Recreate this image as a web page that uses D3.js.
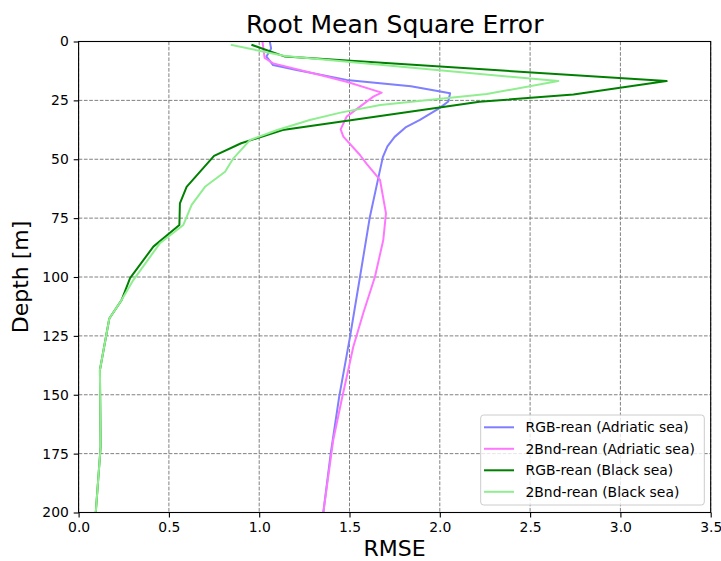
<!DOCTYPE html>
<html>
<head>
<meta charset="utf-8">
<script src="https://cdn.jsdelivr.net/npm/d3@7"></script>
<style>
  html, body { margin: 0; padding: 0; background: #fff; }
  svg { display: block; }
  text { font-family: "DejaVu Sans", sans-serif; fill: #000; }
</style>
</head>
<body>
<svg id="chart" width="721" height="561"></svg>
<script>
// ---- Data (RMSE vs depth) ----
const seriesNames = ["RGB-rean (Adriatic sea)", "2Bnd-rean (Adriatic sea)", "RGB-rean (Black sea)", "2Bnd-rean (Black sea)"];
const seriesColors = ["#7f7fff", "#ff77ff", "#008000", "#90ee90"];

const rgbAdriaticRmse  = [1.06, 1.066, 1.04, 1.077, 1.207, 1.484, 1.84, 2.057, 2.047, 1.996, 1.89, 1.81, 1.75, 1.71, 1.685, 1.665, 1.613, 1.558, 1.503, 1.443, 1.396, 1.355];
const rgbAdriaticDepth = [0.5, 3, 6.4, 10, 12.1, 16.3, 19, 22, 25.5, 28.4, 33.3, 36.5, 40.5, 44.5, 49, 56, 74.4, 100, 125.3, 150.8, 175, 200];

const bndAdriaticRmse  = [1.019, 1.03, 1.078, 1.337, 1.484, 1.678, 1.632, 1.484, 1.451, 1.466, 1.558, 1.595, 1.669, 1.702, 1.687, 1.641, 1.576, 1.521, 1.493, 1.457, 1.41, 1.355];
const bndAdriaticDepth = [0.5, 7, 9.3, 14.2, 17.1, 21.7, 23.4, 31.9, 37.3, 40.4, 48.2, 52, 58.8, 73, 84.3, 99.9, 115.4, 129.6, 139.5, 152, 169.2, 200];

const rgbBlackRmse  = [0.962, 1.143, 3.256, 2.74, 2.22, 1.13, 0.9, 0.75, 0.598, 0.561, 0.558, 0.414, 0.285, 0.238, 0.17, 0.118, 0.122, 0.095];
const rgbBlackDepth = [1.5, 6.4, 16.8, 22.5, 25.6, 37.6, 43.2, 48.6, 61.7, 68.7, 77.9, 87.1, 100.5, 109.8, 117.6, 139.5, 172, 200];

const bndBlackRmse  = [0.848, 1.143, 2.656, 2.26, 1.67, 1.45, 1.28, 1.10, 0.95, 0.857, 0.811, 0.70, 0.626, 0.58, 0.45, 0.303, 0.238, 0.17, 0.118, 0.122, 0.095];
const bndBlackDepth = [1.5, 6.2, 16.8, 22.3, 27, 30.2, 33.3, 37.6, 41.8, 49.6, 55.3, 61.7, 69.4, 77.9, 85.7, 101.3, 109.8, 117.6, 139.5, 172, 200];

const xTicks = [0, 0.5, 1.0, 1.5, 2.0, 2.5, 3.0, 3.5];
const yTicks = [0, 25, 50, 75, 100, 125, 150, 175, 200];

const seriesRmse  = [rgbAdriaticRmse, bndAdriaticRmse, rgbBlackRmse, bndBlackRmse];
const seriesDepth = [rgbAdriaticDepth, bndAdriaticDepth, rgbBlackDepth, bndBlackDepth];

// ---- Layout ----
const svg = d3.select("#chart");
const L = 78.6, R = 710.7, T = 41.5, B = 512.5;

const x = d3.scaleLinear().domain([0, 3.5]).range([L, R]);
const y = d3.scaleLinear().domain([0, 200]).range([T, B]);

// clip
svg.append("defs").append("clipPath").attr("id", "clip")
  .append("rect").attr("x", L).attr("y", T).attr("width", R - L).attr("height", B - T);

// grid
const grid = svg.append("g");
grid.selectAll(".vg").data(xTicks).join("line")
  .attr("x1", d => x(d)).attr("x2", d => x(d)).attr("y1", T).attr("y2", B)
  .attr("stroke", "#808080").attr("stroke-width", 1).attr("stroke-dasharray", "3.7,1.6");
grid.selectAll(".hg").data(yTicks).join("line")
  .attr("y1", d => y(d)).attr("y2", d => y(d)).attr("x1", L).attr("x2", R)
  .attr("stroke", "#808080").attr("stroke-width", 1).attr("stroke-dasharray", "3.7,1.6");

// lines
const line = d3.line().x(d => x(d[0])).y(d => y(d[1]));
const plot = svg.append("g").attr("clip-path", "url(#clip)");
seriesRmse.forEach((vals, i) => {
  const pts = vals.map((v, j) => [v, seriesDepth[i][j]]);
  plot.append("path").datum(pts)
    .attr("d", line).attr("fill", "none")
    .attr("stroke", seriesColors[i]).attr("stroke-width", 2)
    .attr("stroke-linejoin", "round").attr("stroke-linecap", "square");
});

// axes
const xAxis = d3.axisBottom(x).tickValues(xTicks).tickFormat(d3.format(".1f")).tickSize(4.9).tickPadding(4.9);
const yAxis = d3.axisLeft(y).tickValues(yTicks).tickFormat(d3.format("d")).tickSize(4.9).tickPadding(4.9);

const gx = svg.append("g").attr("transform", `translate(0,${B})`).call(xAxis);
const gy = svg.append("g").attr("transform", `translate(${L},0)`).call(yAxis);
[gx, gy].forEach(g => {
  g.select(".domain").remove();
  g.selectAll("line").attr("stroke", "#000").attr("stroke-width", 1.1);
  g.selectAll("text").style("font-family", "DejaVu Sans, sans-serif").style("font-size", "13.9px").attr("fill", "#000");
});

// spines
svg.append("rect").attr("x", L).attr("y", T).attr("width", R - L).attr("height", B - T)
  .attr("fill", "none").attr("stroke", "#000").attr("stroke-width", 1.1);

// title and labels
svg.append("text").attr("x", (L + R) / 2).attr("y", 33).attr("text-anchor", "middle")
  .style("font-size", "25px").text("Root Mean Square Error");
svg.append("text").attr("x", (L + R) / 2).attr("y", 556).attr("text-anchor", "middle")
  .style("font-size", "22px").text("RMSE");
svg.append("text").attr("transform", `translate(28,${(T + B) / 2}) rotate(-90)`).attr("text-anchor", "middle")
  .style("font-size", "22px").text("Depth [m]");

// legend
const lg = svg.append("g");
lg.append("rect").attr("x", 480.7).attr("y", 415).attr("width", 223.6).attr("height", 90)
  .attr("rx", 3).attr("fill", "#fff").attr("fill-opacity", 0.8)
  .attr("stroke", "#cccccc").attr("stroke-width", 1);
seriesNames.forEach((name, i) => {
  const cy = 427.3 + i * 21.5;
  lg.append("line").attr("x1", 484).attr("x2", 514).attr("y1", cy).attr("y2", cy)
    .attr("stroke", seriesColors[i]).attr("stroke-width", 2);
  lg.append("text").attr("x", 525.5).attr("y", cy).attr("dy", "0.35em")
    .style("font-size", "13.9px").text(name);
});
</script>
</body>
</html>
